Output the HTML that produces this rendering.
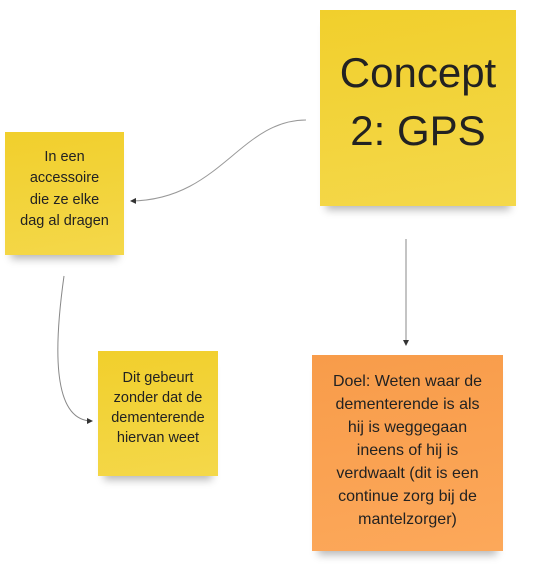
<!DOCTYPE html>
<html><head><style>
body{margin:0;width:537px;height:569px;background:#fff;position:relative;overflow:hidden;font-family:"Liberation Sans",sans-serif;color:#222}
.n{position:absolute;display:flex;align-items:center;justify-content:center;text-align:center;box-sizing:border-box;box-shadow:0 10px 8px -6px rgba(0,0,0,.28);white-space:nowrap}
.y{background:linear-gradient(170deg,#f1cf2c,#f4d84a)}
.o{background:linear-gradient(170deg,#f89c4a,#fca85a)}
</style></head><body>
<svg width="537" height="569" style="position:absolute;left:0;top:0">
<defs><marker id="a" markerWidth="6" markerHeight="6" refX="5" refY="3" orient="auto"><path d="M0,0 L6,3 L0,6z" fill="#333"/></marker></defs>
<path d="M306,120 C240,120 220,200 131,201" fill="none" stroke="#999" stroke-width="1" marker-end="url(#a)"/>
<path d="M406,239 L406,345" fill="none" stroke="#888" stroke-width="1" marker-end="url(#a)"/>
<path d="M64,276 C55,340 50,421 92,421" fill="none" stroke="#888" stroke-width="1" marker-end="url(#a)"/>
</svg>
<div class="n y" style="left:320px;top:10px;width:196px;height:196px;font-size:42px;line-height:58px;padding-bottom:12px">Concept<br>2: GPS</div>
<div class="n y" style="left:5px;top:132px;width:119px;height:123px;font-size:14.5px;line-height:21.5px;padding-bottom:8px">In een<br>accessoire<br>die ze elke<br>dag al dragen</div>
<div class="n y" style="left:98px;top:351px;width:120px;height:125px;font-size:14.5px;line-height:20px;padding-bottom:12px">Dit gebeurt<br>zonder dat de<br>dementerende<br>hiervan weet</div>
<div class="n o" style="left:312px;top:355px;width:191px;height:196px;font-size:16px;line-height:23px;padding-bottom:6px">Doel: Weten waar de<br>dementerende is als<br>hij is weggegaan<br>ineens of hij is<br>verdwaalt (dit is een<br>continue zorg bij de<br>mantelzorger)</div>
</body></html>
